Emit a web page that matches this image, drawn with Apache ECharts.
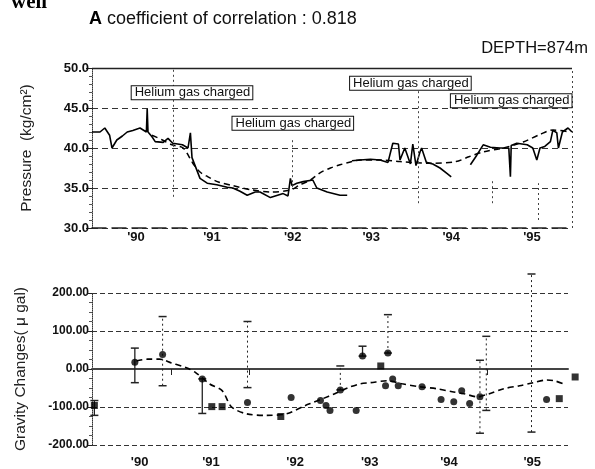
<!DOCTYPE html>
<html><head><meta charset="utf-8">
<script src="https://cdn.jsdelivr.net/npm/echarts@6/dist/echarts.min.js"></script>
<style>html,body{margin:0;padding:0;background:#fff}#c{width:595px;height:469px}</style>
</head><body><div id="c"></div>
<script>
// ---------- top panel: pressure ----------
const pressureYears = [1990.00,1990.10,1990.16,1990.22,1990.25,1990.31,1990.38,1990.44,1990.51,1990.60,1990.68,1990.69,1990.70,1990.75,1990.79,1990.89,1990.95,1991.01,1991.13,1991.20,1991.23,1991.25,1991.35,1991.44,1991.56,1991.69,1991.76,1991.85,1991.94,1992.04,1992.10,1992.23,1992.39,1992.45,1992.48,1992.50,1992.56,1992.64,1992.76,1992.81,1992.94,1993.10,1993.19,
  1993.22,
  1993.25,1993.35,1993.48,1993.60,1993.70,1993.76,1993.83,1993.85,1993.91,1993.98,1994.01,1994.05,1994.10,1994.12,1994.18,1994.26,1994.35,1994.44,1994.49,
  1994.60,
  1994.73,1994.81,1994.89,1994.98,1995.10,1995.21,1995.23,1995.24,1995.31,1995.44,1995.51,1995.56,1995.60,1995.66,1995.73,1995.76,1995.81,1995.83,1995.88,1995.95,1996.00];
const pressureValues = [42.0,42.0,42.5,41.6,40.0,41.0,41.5,42.0,42.2,42.5,42.0,44.9,42.0,41.4,40.8,40.7,41.2,40.6,40.4,40.0,41.9,38.8,36.2,35.6,35.4,35.1,35.0,34.6,34.1,34.5,34.5,33.8,34.3,34.0,36.2,35.3,35.6,35.8,36.0,35.0,34.5,34.1,34.1,
  null,
  38.4,38.5,38.6,38.5,38.2,40.6,40.5,38.5,40.0,38.0,40.5,37.8,39.5,40.0,38.2,38.0,37.5,36.8,36.4,
  null,
  37.9,39.1,40.4,40.1,40.0,40.0,36.4,40.3,40.6,40.4,40.0,38.5,40.0,40.2,40.8,42.2,41.9,40.0,42.0,42.5,42.0];
const pressureFitYears = [1990.75,1990.88,1991.00,1991.14,1991.26,1991.35,1991.45,1991.58,1991.76,1991.98,1992.23,1992.48,1992.60,1992.73,1992.85,1992.98,1993.10,1993.23,1993.35,1993.60,1993.85,1994.23,1994.55,1994.71,1994.89,1995.14,1995.39,1995.60,1995.76,1995.98];
const pressureFitValues = [41.6,41.0,40.4,40.0,38.1,37.0,36.4,35.75,35.3,34.8,34.5,34.75,35.4,36.0,36.9,37.5,37.9,38.25,38.5,38.5,38.3,38.1,38.3,38.9,39.5,40.0,40.75,41.7,42.25,42.0];
const topTickValues = [1990.55,1991.50,1992.51,1993.49,1994.49,1995.50];
const topTickLabels = ["'90","'91","'92","'93","'94","'95"];
const heliumYears = [1991.25,1992.51,1993.98,1995.24];
const heliumValues = [46.9,43.1,48.1,45.9];
const heliumText = 'Helium gas charged';
const topGuideYears = [1991.01,1992.50,1994.08,1995.00,1995.58,1996.0];
const topGuideLow = [33.9,35.1,33.1,33.1,31.0,30.0];
const topGuideHigh = [50.0,41.3,47.6,36.0,35.6,50.0];

// ---------- bottom panel: gravity ----------
const gravCircleYears = [1990.54,1990.89,1991.39,1991.96,1992.51,1992.88,1992.95,1993.00,1993.13,1993.33,1993.41,1993.70,1993.73,1993.79,1993.86,1994.16,1994.40,1994.56,1994.66,1994.76,1994.89,1995.73];
const gravCircleValues = [18,38,-26,-88,-75,-83,-96,-109,-55,-109,34,-44,42,-26,-44,-47,-80,-86,-57,-91,-73,-80];
const gravSquareYears = [1990.03,1991.51,1991.64,1992.38,1993.64,1995.89,1996.09];
const gravSquareValues = [-96,-99,-99,-125,8,-78,-21];
const gravFitYears = [1990.56,1990.70,1990.85,1991.00,1991.19,1991.31,1991.48,1991.64,1991.76,1991.95,1992.20,1992.45,1992.69,1992.79,1992.91,1993.06,1993.23,1993.38,1993.51,1993.73,1993.91,1994.14,1994.35,1994.54,1994.69,1994.85,1995.01,1995.19,1995.39,1995.56,1995.73,1995.83,1995.94];
const gravFitValues = [21,26,26,16,3,-10,-39,-57,-100,-118,-122,-118,-96,-88,-78,-65,-49,-39,-36,-31,-39,-47,-52,-60,-65,-73,-65,-52,-44,-36,-29,-31,-39];
const errYears = [1990.03,1990.54,1990.89,1991.39,1991.96,1993.13,1993.41,1993.73,1994.89,1994.97,1995.54];
const errLow = [-122,-36,-44,-117,-49,-55,34,42,-169,-109,-166];
const errHigh = [-83,55,138,-26,125,8,60,143,23,86,250];
const errDotted = [false,false,true,false,true,true,false,true,true,true,true];
const bottomTickValues = [1990.60,1991.50,1992.56,1993.50,1994.50,1995.55];
const bottomTickLabels = ["'90","'91","'92","'93","'94","'95"];

const FONT = 'Liberation Sans, Arial, sans-serif';
const chart = echarts.init(document.getElementById('c'), null, {renderer: 'canvas'});

function pairs(xs, ys) { return xs.map((x, i) => [x, ys[i] === null ? '-' : ys[i]]); }
function labelFor(values, labels) { return v => { const i = values.findIndex(t => Math.abs(t - v) < 1e-6); return i >= 0 ? labels[i] : ''; }; }

const topGuides = topGuideYears.map((x, i) => [{coord: [x, topGuideLow[i]]}, {coord: [x, topGuideHigh[i]]}]);

const option = {
  backgroundColor: '#fff',
  animation: false,
  textStyle: {fontFamily: FONT},
  title: [
    {text: 'well', left: 6, top: -13, textStyle: {fontFamily: 'Liberation Serif, serif', fontWeight: 'bold', fontSize: 21, color: '#000'}},
    {text: '{b|A} coefficient of correlation : 0.818', left: 84, top: 5,
     textStyle: {fontFamily: FONT, fontSize: 18, fontWeight: 'normal', color: '#111',
       rich: {b: {fontWeight: 'bold', fontSize: 18, fontFamily: FONT, color: '#000'}}}},
    {text: 'DEPTH=874m', right: 2, top: 35, textStyle: {fontFamily: FONT, fontSize: 16.5, fontWeight: 'normal', color: '#111'}}
  ],
  grid: [
    {left: 92, top: 68, width: 480, height: 160},
    {left: 92, top: 293, width: 476, height: 154}
  ],
  xAxis: [
    {gridIndex: 0, type: 'value', min: 1990, max: 1996,
     axisLine: {show: true, lineStyle: {color: '#222', width: 1.5, type: [14, 6]}},
     axisTick: {show: false},
     splitLine: {show: false},
     axisLabel: {customValues: topTickValues, formatter: labelFor(topTickValues, topTickLabels), fontSize: 13, fontWeight: 'bold', color: '#111', margin: 3, fontFamily: FONT}},
    {gridIndex: 1, type: 'value', min: 1990, max: 1996,
     axisLine: {show: true, lineStyle: {color: '#444', width: 2}},
     axisTick: {show: true, customValues: [1991.0, 1991.98, 1994.98], inside: false, length: 6, lineStyle: {color: '#222'}},
     splitLine: {show: false},
     axisLabel: {customValues: bottomTickValues, formatter: labelFor(bottomTickValues, bottomTickLabels), fontSize: 13, fontWeight: 'bold', color: '#111', margin: 11, fontFamily: FONT}}
  ],
  yAxis: [
    {gridIndex: 0, type: 'value', min: 30, max: 50, interval: 5,
     name: 'Pressure  (kg/cm²)', nameLocation: 'middle', nameGap: 57, nameRotate: 90,
     nameTextStyle: {fontSize: 15.5, color: '#222', fontFamily: FONT},
     axisLine: {show: true, lineStyle: {color: '#333', type: 'dotted', width: 1}},
     axisTick: {show: true, length: 6, lineStyle: {color: '#222'}},
     minorTick: {show: true, splitNumber: 5, length: 3, lineStyle: {color: '#555'}},
     splitLine: {show: true, lineStyle: {color: '#333', type: [6, 4], width: 1}},
     axisLabel: {formatter: v => v.toFixed(1), fontSize: 13, fontWeight: 'bold', color: '#111', margin: 3, fontFamily: FONT}},
    {gridIndex: 1, type: 'value', min: -200, max: 200, interval: 100,
     name: 'Gravity Changes( μ gal)', nameLocation: 'middle', nameGap: 63, nameRotate: 90,
     nameTextStyle: {fontSize: 15.5, color: '#222', fontFamily: FONT},
     axisLine: {show: true, lineStyle: {color: '#333', type: 'dotted', width: 1}},
     axisTick: {show: true, length: 5, lineStyle: {color: '#222'}},
     minorTick: {show: true, splitNumber: 4, length: 3, lineStyle: {color: '#555'}},
     splitLine: {show: true, lineStyle: {color: '#333', type: [5, 3], width: 1}},
     axisLabel: {formatter: v => v.toFixed(2), fontSize: 12, fontWeight: 'bold', color: '#111', margin: 3, fontFamily: FONT}}
  ],
  series: [
    {name: 'pressure', type: 'line', xAxisIndex: 0, yAxisIndex: 0, symbol: 'none', connectNulls: false,
     lineStyle: {color: '#000', width: 1.6},
     data: pairs(pressureYears, pressureValues),
     markPoint: {
       symbol: 'rect', symbolSize: 1, itemStyle: {color: 'rgba(0,0,0,0)'}, silent: true, animation: false,
       label: {show: true, position: 'inside', formatter: heliumText, fontSize: 13, color: '#111', fontFamily: FONT,
         backgroundColor: '#fff', borderColor: '#111', borderWidth: 1, padding: [0, 2, 0, 3]},
       data: heliumYears.map((x, i) => ({coord: [x, heliumValues[i]]}))
     },
     markLine: {silent: true, symbol: 'none', animation: false, label: {show: false},
       lineStyle: {color: '#444', type: [2, 3], width: 1},
       data: topGuides.concat([[{coord: [1990, 50], lineStyle: {type: 'solid', width: 1.4, color: '#222'}}, {coord: [1996, 50]}]])}
    },
    {name: 'pressureFit', type: 'line', xAxisIndex: 0, yAxisIndex: 0, symbol: 'none', smooth: 0.3,
     lineStyle: {color: '#000', width: 1.5, type: [6, 4]},
     data: pairs(pressureFitYears, pressureFitValues)},
    {name: 'gravityFit', type: 'line', xAxisIndex: 1, yAxisIndex: 1, symbol: 'none', smooth: 0.3,
     lineStyle: {color: '#000', width: 1.6, type: [6, 4]},
     data: pairs(gravFitYears, gravFitValues)},
    {name: 'errorBars', type: 'custom', xAxisIndex: 1, yAxisIndex: 1, clip: false, silent: true,
     data: errYears.map((x, i) => [x, errLow[i], errHigh[i], errDotted[i] ? 1 : 0]),
     renderItem: function (params, api) {
       const x = api.value(0);
       const p1 = api.coord([x, api.value(1)]);
       const p2 = api.coord([x, api.value(2)]);
       const dotted = api.value(3) === 1;
       const st = {stroke: '#222', lineWidth: dotted ? 1 : 1.3, lineDash: dotted ? [2, 3] : null};
       return {type: 'group', children: [
         {type: 'line', shape: {x1: p1[0], y1: p1[1], x2: p2[0], y2: p2[1]}, style: st},
         {type: 'line', shape: {x1: p1[0] - 4, y1: p1[1], x2: p1[0] + 4, y2: p1[1]}, style: {stroke: '#222', lineWidth: 1.5}},
         {type: 'line', shape: {x1: p2[0] - 4, y1: p2[1], x2: p2[0] + 4, y2: p2[1]}, style: {stroke: '#222', lineWidth: 1.5}}
       ]};
     }},
    {name: 'gravityCircles', type: 'scatter', xAxisIndex: 1, yAxisIndex: 1, symbol: 'circle', symbolSize: 7,
     itemStyle: {color: '#000'}, data: pairs(gravCircleYears, gravCircleValues)},
    {name: 'gravitySquares', type: 'scatter', xAxisIndex: 1, yAxisIndex: 1, symbol: 'rect', symbolSize: 7, clip: false,
     itemStyle: {color: '#000'}, data: pairs(gravSquareYears, gravSquareValues)}
  ]
};
chart.setOption(option);
</script>
</body></html>
